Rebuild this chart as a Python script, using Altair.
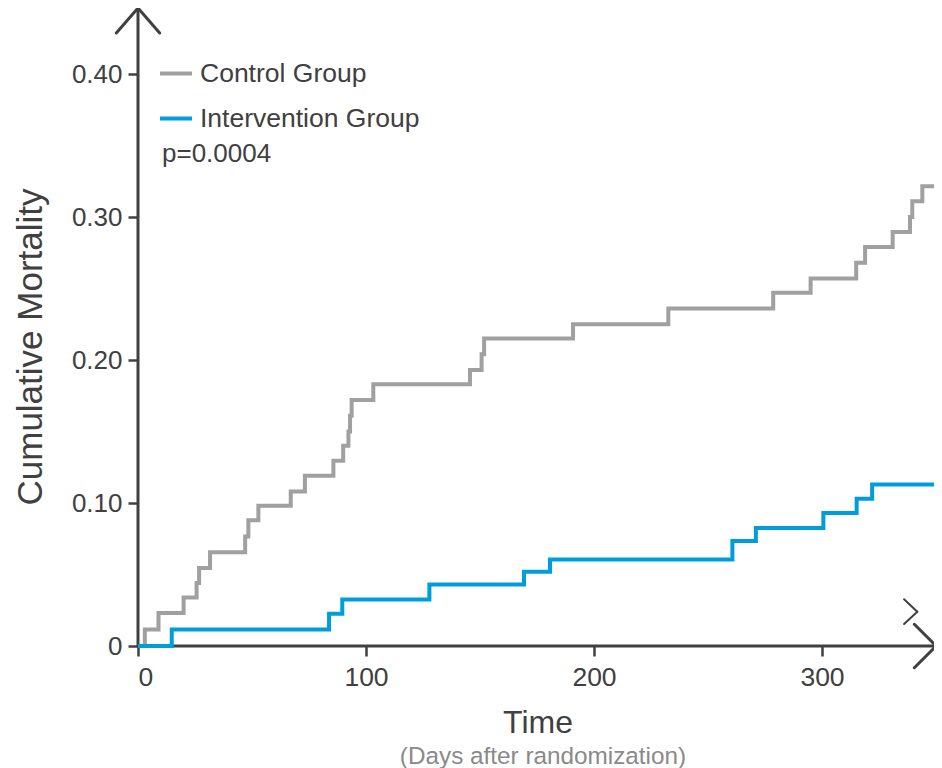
import altair as alt
import pandas as pd

# ---- data ----
control_t = [0, 3, 9, 20, 25.7, 26.8, 31.6, 47, 48.4, 52.8, 67, 73.2, 85.7, 90, 92.3, 93, 93.7,
             103.2, 145.6, 150.7, 151.8, 190.8, 232.6, 278.6, 295, 315, 318.9, 331, 338.6,
             339.6, 344, 350]
control_v = [0, 0.0115, 0.023, 0.034, 0.044, 0.0545, 0.0655, 0.0765, 0.088, 0.098, 0.108, 0.119,
             0.1295, 0.14, 0.15, 0.161, 0.172, 0.183, 0.193, 0.204, 0.215, 0.225, 0.236, 0.247,
             0.257, 0.268, 0.279, 0.2895, 0.30, 0.311, 0.3215, 0.3215]
interv_t = [0, 14.8, 83.8, 89.6, 127.8, 169.3, 180.7, 260.7, 271, 300.6, 315.2, 322, 350]
interv_v = [0, 0.0115, 0.0225, 0.0325, 0.043, 0.052, 0.0605, 0.0735, 0.0825, 0.093, 0.103,
            0.113, 0.113]
groups = ["Control Group", "Intervention Group"]
colors = ["#a0a0a0", "#009ddc"]
x_ticks = [0, 100, 200, 300]
y_ticks = [0, 0.1, 0.2, 0.3, 0.4]
p_text = "p=0.0004"
y_title = "Cumulative Mortality"
x_title = "Time"
x_subtitle = "(Days after randomization)"

PX_PER_DAY = 2.28
W, H = 796, 638
X_MAX = W / PX_PER_DAY      # visible plot width in days (lines/arrow run to 350)
X_END = 350
Y_MAX = 0.4462

df = pd.concat([
    pd.DataFrame({"t": control_t, "v": control_v, "group": groups[0]}),
    pd.DataFrame({"t": interv_t, "v": interv_v, "group": groups[1]}),
])

xs = alt.Scale(domain=[0, X_MAX], nice=False, zero=False)
ys = alt.Scale(domain=[0, Y_MAX], nice=False, zero=False)

FONT = "Liberation Sans"
AX = "#404040"

lines = alt.Chart(df).mark_line(interpolate="step-after", strokeWidth=4, clip=False).encode(
    x=alt.X("t:Q", scale=xs, axis=alt.Axis(
        values=x_ticks, title=None, domain=False, grid=False, tickSize=10, tickWidth=2.5,
        tickColor=AX, labelFontSize=26.5, labelFont=FONT, labelColor=AX, labelPadding=8)),
    y=alt.Y("v:Q", scale=ys, axis=alt.Axis(
        values=y_ticks, title=None, domain=False, grid=False, tickSize=10, tickWidth=2.5,
        tickColor=AX, labelFontSize=26, labelFont=FONT, labelColor=AX, labelPadding=6,
        labelExpr="datum.value == 0 ? '0' : format(datum.value, '.2f')")),
    color=alt.Color("group:N", scale=alt.Scale(domain=groups, range=colors), legend=alt.Legend(
        title=None, orient="none", legendX=20, legendY=47.5, symbolType="stroke",
        symbolSize=1024, symbolStrokeWidth=4, labelFontSize=26.5, labelFont=FONT,
        labelColor=AX, rowPadding=13, labelOffset=6, padding=0, labelLimit=0)),
)

# axis lines with arrow heads (data coordinates)
axes_df = pd.DataFrame({
    "x":  [0, 0, 0, 0, X_END, X_END, 336, 341.8],
    "y":  [0, Y_MAX, Y_MAX, 0, 0, 0, 0.0327, 0.024],
    "x2": [0, -9.5, 9.5, X_END, X_END - 9.5, X_END - 9.5, 341.8, 336],
    "y2": [Y_MAX, Y_MAX - 0.0175, Y_MAX - 0.0175, 0, 0.0152, -0.0152, 0.024, 0.0154],
    "w":  [3, 3, 3, 3, 3, 3, 2, 2],
})
axes = alt.Chart(axes_df).mark_rule(color=AX, clip=False, strokeCap="round").encode(
    x=alt.X("x:Q", scale=xs), y=alt.Y("y:Q", scale=ys),
    x2="x2:Q", y2="y2:Q",
    strokeWidth=alt.StrokeWidth("w:Q", scale=None, legend=None),
)

ptxt = alt.Chart(pd.DataFrame({"s": [p_text]})).mark_text(
    align="left", baseline="alphabetic", fontSize=26, font=FONT, color=AX
).encode(x=alt.value(24), y=alt.value(154), text="s:N")

ytitle = alt.Chart(pd.DataFrame({"s": [y_title]})).mark_text(
    align="center", baseline="alphabetic", angle=270, fontSize=35, font=FONT, color=AX
).encode(x=alt.value(-96), y=alt.value(339), text="s:N")

xtitle = alt.Chart(pd.DataFrame({"s": [x_title]})).mark_text(
    align="center", baseline="alphabetic", fontSize=32, font=FONT, color=AX
).encode(x=alt.value(400), y=alt.value(725), text="s:N")

xsub = alt.Chart(pd.DataFrame({"s": [x_subtitle]})).mark_text(
    align="center", baseline="alphabetic", fontSize=24.3, font=FONT, color="#8a8a8a"
).encode(x=alt.value(405), y=alt.value(756), text="s:N")

chart = alt.layer(axes, lines, ptxt, ytitle, xtitle, xsub).properties(
    width=W, height=H,
    background="white",
    autosize=alt.AutoSizeParams(type="none"),
    padding={"left": 130, "top": 0, "right": 0, "bottom": 122},
).configure_view(stroke=None)

chart.save("out.html", embed_options={"renderer": "svg", "actions": False})
